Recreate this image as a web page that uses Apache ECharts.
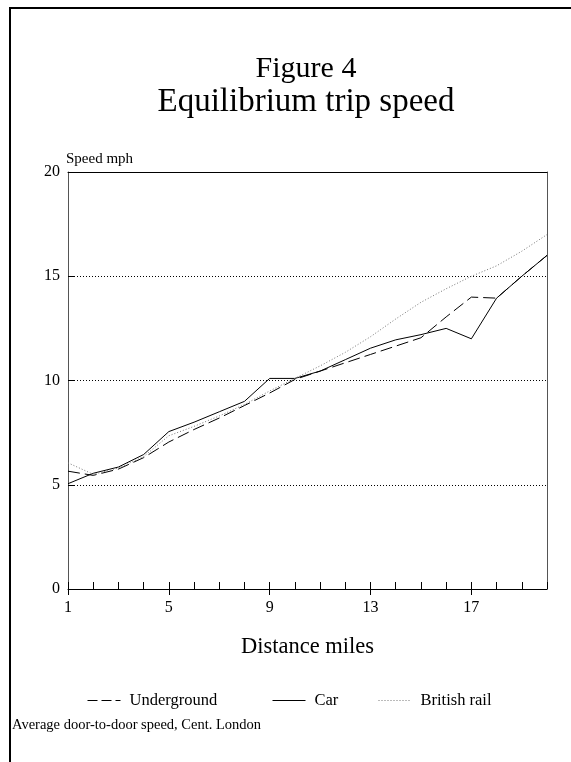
<!DOCTYPE html>
<html>
<head>
<meta charset="utf-8">
<script src="https://cdn.jsdelivr.net/npm/echarts@6/dist/echarts.min.js"></script>
<style>
html,body{margin:0;padding:0;background:#fff;}
#chart{width:571px;height:762px;}
</style>
</head>
<body>
<div id="chart"></div>
<script>
// Distance (miles) categories
var miles = ['1','2','3','4','5','6','7','8','9','10','11','12','13','14','15','16','17','18','19','20'];
// Speed mph by mode
var underground = [5.65,5.45,5.75,6.3,7.05,7.65,8.2,8.8,9.4,10.05,10.45,10.85,11.25,11.65,12.05,13.05,14.0,13.95,15.0,16.0];
var car = [5.05,5.55,5.85,6.45,7.55,8.0,8.5,9.0,10.1,10.1,10.45,11.0,11.55,11.95,12.2,12.5,12.0,13.95,15.0,16.0];
var britishRail = [6.05,5.5,5.8,6.35,7.35,7.8,8.3,8.85,9.5,10.1,10.7,11.35,12.1,12.95,13.75,14.4,15.0,15.5,16.2,17.0];
var yTicks = {min:0, max:20, interval:5};
var majorEvery = 4;

var FONT = "'Liberation Serif', 'Times New Roman', serif";
var chart = echarts.init(document.getElementById('chart'), null, {renderer:'canvas'});

var isMajor = function(i){ return i % majorEvery === 0; };
var legendBase = function(name, left, dash){
  return {data:[name], left:left, top:692, padding:0, itemWidth:33, itemHeight:14,
    itemStyle:{opacity:0},
    lineStyle:{type:dash, width:1},
    textStyle:{fontFamily:FONT, fontSize:16.5, color:'#000', padding:[0,0,0,4]}};
};

var option = {
  backgroundColor:'#fff',
  animation:false,
  textStyle:{fontFamily:FONT, color:'#000'},
  title:[
    {text:'Figure 4', left:306, textAlign:'center', top:54, padding:0,
     textStyle:{fontFamily:FONT, fontSize:30, fontWeight:'normal', color:'#000'}},
    {text:'Equilibrium trip speed', left:306, textAlign:'center', top:86, padding:0,
     textStyle:{fontFamily:FONT, fontSize:33, fontWeight:'normal', color:'#000'}},
    {text:'Speed mph', left:66, top:152, padding:0,
     textStyle:{fontFamily:FONT, fontSize:15, fontWeight:'normal', color:'#000'}},
    {text:'Average door-to-door speed, Cent. London', left:12, top:718, padding:0,
     textStyle:{fontFamily:FONT, fontSize:14.5, fontWeight:'normal', color:'#000'}}
  ],
  graphic:[
    {type:'rect', shape:{x:10, y:8, width:800, height:900},
     style:{fill:'none', stroke:'#000', lineWidth:2}, silent:true}
  ],
  legend:[
    legendBase('Underground', 87, [10,4]),
    legendBase('Car', 272, 'solid'),
    legendBase('British rail', 378, [1,2])
  ],
  grid:{left:68, right:24, top:172, bottom:173, show:false},
  xAxis:[
    {type:'category', data:miles, boundaryGap:false, position:'bottom',
     axisLine:{show:true, lineStyle:{color:'#000', width:1}},
     axisTick:{show:true, inside:true, length:7, interval:0, lineStyle:{color:'#000'}},
     axisLabel:{show:false}, splitLine:{show:false},
     name:'Distance miles', nameLocation:'middle', nameGap:47,
     nameTextStyle:{fontFamily:FONT, fontSize:22.5, color:'#000'}},
    {type:'category', data:miles, boundaryGap:false, position:'bottom',
     axisLine:{show:false},
     axisTick:{show:true, inside:false, length:6, interval:isMajor, lineStyle:{color:'#000'}},
     axisLabel:{show:true, interval:isMajor, margin:11, fontFamily:FONT, fontSize:16, color:'#000'},
     splitLine:{show:false}},
    {type:'category', data:miles, boundaryGap:false, position:'top',
     axisLine:{show:true, lineStyle:{color:'#000', width:1}},
     axisTick:{show:false}, axisLabel:{show:false}, splitLine:{show:false}}
  ],
  yAxis:[
    {type:'value', min:yTicks.min, max:yTicks.max, interval:yTicks.interval, position:'left',
     axisLine:{show:true, lineStyle:{color:'#555', width:1}},
     axisTick:{show:true, inside:true, length:7, lineStyle:{color:'#000'}},
     axisLabel:{show:true, margin:8, fontFamily:FONT, fontSize:16, color:'#000'},
     splitLine:{show:true, lineStyle:{color:'#000', type:[1,2], width:1}}},
    {type:'value', min:yTicks.min, max:yTicks.max, interval:yTicks.interval, position:'right',
     axisLine:{show:true, lineStyle:{color:'#555', width:1}},
     axisTick:{show:false}, axisLabel:{show:false}, splitLine:{show:false}}
  ],
  series:[
    {name:'Underground', type:'line', data:underground, xAxisIndex:0, yAxisIndex:0,
     symbol:'none', smooth:false, color:'#000',
     lineStyle:{color:'#000', width:1, type:[12,5]}},
    {name:'Car', type:'line', data:car, xAxisIndex:0, yAxisIndex:0,
     symbol:'none', smooth:false, color:'#000',
     lineStyle:{color:'#000', width:1, type:'solid'}},
    {name:'British rail', type:'line', data:britishRail, xAxisIndex:0, yAxisIndex:0,
     symbol:'none', smooth:false, color:'#777',
     lineStyle:{color:'#777', width:1, type:[1,2]}}
  ]
};
chart.setOption(option);
</script>
</body>
</html>
